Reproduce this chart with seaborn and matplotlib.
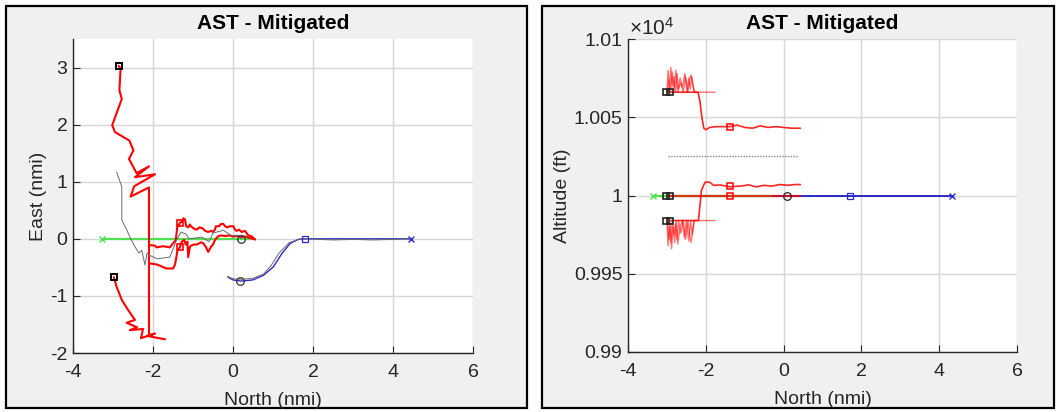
import matplotlib
matplotlib.use("Agg")
import matplotlib.pyplot as plt
from matplotlib.patches import Rectangle
import seaborn as sns
import numpy as np

# ---------------- data: left panel (North vs East, nmi) ----------------
red_up_N = [-2.86, -2.81, -2.84, -2.78, -3.02, -2.95, -2.59, -2.49, -2.60, -2.41,
            -2.10, -2.45, -1.95, -2.47, -2.56, -2.10, -2.10]
red_up_E = [3.03, 2.98, 2.60, 2.45, 1.99, 1.87, 1.72, 1.55, 1.40, 1.15,
            1.27, 1.08, 1.13, 0.92, 0.74, 0.90, -1.70]
red_lo_N = [-2.98, -2.91, -2.78, -2.62, -2.45, -2.66, -2.40, -2.58, -2.25, -2.30,
            -1.95, -2.15, -1.70]
red_lo_E = [-0.67, -0.84, -1.07, -1.25, -1.42, -1.47, -1.55, -1.60, -1.58, -1.74,
            -1.66, -1.70, -1.76]
env_hi_N = [-2.09, -1.95, -1.91, -1.75, -1.58, -1.50, -1.43, -1.41, -1.39, -1.36,
            -1.33, -1.28, -1.24, -1.20, -1.17, -1.12, -1.08, -1.05, -0.98, -0.91,
            -0.84, -0.75, -0.70, -0.62, -0.55, -0.50, -0.45, -0.43, -0.35, -0.30,
            -0.24, -0.20, -0.14, -0.08, 0.01, 0.05, 0.09, 0.15, 0.22, 0.30,
            0.38, 0.45, 0.55]
env_hi_E = [-0.11, -0.12, -0.15, -0.13, -0.15, -0.08, -0.02, 0.10, 0.24, 0.22,
            0.28, 0.30, 0.36, 0.34, 0.22, 0.20, 0.25, 0.22, 0.18, 0.16,
            0.20, 0.18, 0.14, 0.12, 0.14, 0.12, 0.16, 0.22, 0.22, 0.26,
            0.26, 0.22, 0.20, 0.22, 0.22, 0.16, 0.14, 0.16, 0.12, 0.14,
            0.06, 0.05, -0.01]
env_lo_N = [-2.09, -1.90, -1.66, -1.50, -1.45, -1.41, -1.39, -1.36, -1.33, -1.28,
            -1.22, -1.18, -1.14, -1.12, -1.08, -1.05, -0.98, -0.90, -0.80, -0.74,
            -0.68, -0.62, -0.58, -0.55, -0.50, -0.45, -0.38, -0.30, -0.20, -0.08,
            0.00, 0.10, 0.20, 0.30, 0.40, 0.55]
env_lo_E = [-0.43, -0.45, -0.52, -0.52, -0.45, -0.30, -0.20, -0.18, -0.15, -0.05,
            -0.02, -0.10, -0.05, -0.32, -0.15, -0.12, -0.10, -0.10, -0.06, -0.08,
            -0.14, -0.23, -0.18, -0.14, -0.10, -0.02, 0.04, 0.06, 0.05, 0.06,
            0.04, 0.05, 0.03, 0.04, 0.02, -0.01]
gray_N = [-2.91, -2.85, -2.78, -2.78, -2.65, -2.58, -2.45, -2.35, -2.28, -2.20,
          -2.15, -2.08, -1.90, -1.58, -1.41, -1.30, -1.17, -1.10, -0.78, -0.60,
          -0.50, -0.24, -0.05, 0.17, 0.20]
gray_E = [1.17, 1.05, 0.91, 0.33, 0.15, 0.03, -0.14, -0.25, -0.20, -0.46,
          -0.25, -0.29, -0.35, -0.32, -0.02, 0.12, 0.08, 0.00, 0.03, -0.05,
          0.10, 0.15, 0.06, 0.06, 0.00]
gray2_N = [-0.13, 0.0, 0.2, 0.5, 0.76, 0.95, 1.15, 1.4, 1.63, 1.81, 2.5, 3.0, 3.5, 4.45]
gray2_E = [-0.66, -0.70, -0.71, -0.69, -0.62, -0.47, -0.25, -0.07, -0.01, 0.0, -0.02, -0.01, -0.02, 0.0]
green_N = [-3.28, 0.45]
green_E = [0.0, 0.0]
blue_N = [-0.13, 0.0, 0.2, 0.5, 0.76, 1.01, 1.22, 1.43, 1.63, 1.81, 2.5, 3.5, 4.45]
blue_E = [-0.67, -0.72, -0.74, -0.72, -0.64, -0.49, -0.26, -0.08, -0.01, 0.0, 0.0, 0.0, 0.0]

# ---------------- data: right panel (North vs Altitude, ft) ----------------
spk_hi_N = [-3.00, -2.97, -2.93, -2.90, -2.86, -2.82, -2.78, -2.74, -2.70, -2.64,
            -2.58, -2.52, -2.46, -2.42, -2.38, -2.33, -2.30, -2.20, -1.76]
spk_hi_A = [10066, 10080, 10068, 10082, 10070, 10076, 10066, 10078, 10068, 10072,
            10066, 10076, 10066, 10074, 10077, 10070, 10066, 10066, 10066]
spk_hi2_N = [-2.98, -2.95, -2.91, -2.86, -2.82, -2.77, -2.72, -2.66, -2.60, -2.54,
             -2.48, -2.44, -2.40, -2.36, -2.31, -2.28]
spk_hi2_A = [10066, 10074, 10066, 10079, 10067, 10080, 10066, 10075, 10069, 10078,
             10066, 10075, 10068, 10076, 10068, 10066]
man_hi_N = [-2.90, -2.20, -2.15, -2.10, -2.05, -2.00, -1.90, -1.75, -1.38, -1.20,
            -1.00, -0.80, -0.60, -0.40, -0.20, 0.00, 0.20, 0.43]
man_hi_A = [10066, 10066, 10060, 10050, 10043, 10042, 10043.5, 10044, 10044, 10045,
            10043.5, 10043, 10044.5, 10043.5, 10044, 10043.5, 10043, 10043]
spk_lo_N = [-3.00, -2.97, -2.93, -2.90, -2.86, -2.82, -2.78, -2.74, -2.70, -2.64,
            -2.58, -2.52, -2.46, -2.42, -2.38, -2.33, -2.30, -1.76]
spk_lo_A = [9984, 9968, 9980, 9970, 9984, 9975, 9982, 9972, 9984, 9976,
            9984, 9972, 9984, 9976, 9970, 9978, 9984, 9984]
spk_lo2_N = [-2.98, -2.95, -2.92, -2.88, -2.84, -2.80, -2.76, -2.72, -2.66, -2.60,
             -2.55, -2.50, -2.44, -2.39, -2.35, -2.30]
spk_lo2_A = [9984, 9972, 9983, 9966, 9980, 9970, 9984, 9969, 9980, 9984,
             9973, 9984, 9971, 9984, 9975, 9984]
man_lo_N = [-2.90, -2.19, -2.11, -2.02, -1.90, -1.80, -1.63, -1.38, -1.10, -0.90,
            -0.70, -0.50, -0.30, -0.10, 0.10, 0.30, 0.43]
man_lo_A = [9984, 9984, 10003.5, 10008.5, 10008.5, 10006.5, 10006.7, 10005.6, 10006, 10006.8,
            10005.5, 10006.5, 10006, 10007, 10006.5, 10007, 10007]
lvl_N = [-3.00, 0.43]
lvl_A = [10000, 10000]
gray_alt_N = [-2.97, 0.37]
gray_alt_A = [10025, 10025]
green_alt_N = [-3.36, -0.27]
green_alt_A = [10000, 10000]
blue_alt_N = [-0.27, 4.33]
blue_alt_A = [10000, 10000]

# ---------------- style ----------------
sns.set_theme(style="white")
plt.rcParams["font.family"] = ["Liberation Sans", "DejaVu Sans"]
plt.rcParams["mathtext.fontset"] = "custom"
plt.rcParams["mathtext.rm"] = "Liberation Sans"
plt.rcParams["mathtext.it"] = "Liberation Sans"
plt.rcParams["axes.unicode_minus"] = False

RED = "#FF0000"
GREEN = "#4FE04F"
BLUE = "#2B2BC8"
GRAY = "#6A6A6A"
TXT = "#262626"
FS = 14
W, H = 1059, 412

fig = plt.figure(figsize=(W / 100, H / 100), dpi=100)
fig.patch.set_facecolor("white")

# panel frames
for (x0, x1) in [(6, 527), (542, 1054)]:
    fig.patches.append(Rectangle((x0 / W, 1 - 408 / H), (x1 - x0) / W, 402 / H,
                                 transform=fig.transFigure, facecolor="#F0F0F0",
                                 edgecolor="black", linewidth=1.6, zorder=-5))

axL = fig.add_axes([73 / W, 1 - 353 / H, 400 / W, 314 / H])
axR = fig.add_axes([628 / W, 1 - 352 / H, 389 / W, 313 / H])


def line(ax, x, y, color, lw, alpha=1.0, z=2, ls="-"):
    sns.lineplot(x=x, y=y, sort=False, estimator=None, color=color, linewidth=lw,
                 alpha=alpha, ax=ax, zorder=z, linestyle=ls)


def mark(ax, x, y, m, color, ms, mew=1.0, z=5):
    ax.plot(x, y, linestyle="none", marker=m, markersize=ms, markeredgecolor=color,
            markerfacecolor="none", markeredgewidth=mew, zorder=z)


# ---- left panel ----
line(axL, green_N, green_E, GREEN, 1.6, z=2)
line(axL, blue_N, blue_E, BLUE, 1.0, z=2)
line(axL, gray2_N, gray2_E, GRAY, 0.7, z=3)
line(axL, red_up_N, red_up_E, RED, 1.5, z=3)
line(axL, red_lo_N, red_lo_E, RED, 1.5, z=3)
line(axL, env_hi_N, env_hi_E, RED, 1.5, z=3)
line(axL, env_lo_N, env_lo_E, RED, 1.5, z=3)
line(axL, gray_N, gray_E, GRAY, 0.7, z=4)

mark(axL, [-3.28], [0.0], "x", GREEN, 5)
mark(axL, [-2.86, -2.98], [3.03, -0.67], "s", "black", 4.5, 1.4)
mark(axL, [-1.33, -1.33], [0.28, -0.15], "s", RED, 4.5, 1.2)
mark(axL, [0.2, 0.17], [0.0, -0.74], "o", "#333333", 5.5, 0.9)
mark(axL, [1.81], [0.0], "s", BLUE, 4.5, 0.9)
mark(axL, [4.45], [0.0], "x", BLUE, 5, 1.0)

axL.set_xlim(-4, 6)
axL.set_ylim(-2, 3.5)
axL.set_xticks([-4, -2, 0, 2, 4, 6])
axL.set_yticks([-2, -1, 0, 1, 2, 3])
axL.set_ylabel("East (nmi)", fontsize=FS, color=TXT, labelpad=2)

# ---- right panel ----
line(axR, green_alt_N, green_alt_A, GREEN, 1.6, z=2)
line(axR, blue_alt_N, blue_alt_A, BLUE, 1.4, z=2)
line(axR, lvl_N, lvl_A, RED, 1.6, alpha=0.75, z=3)
line(axR, spk_hi_N, spk_hi_A, RED, 1.0, alpha=0.55, z=3)
line(axR, spk_hi2_N, spk_hi2_A, RED, 1.0, alpha=0.55, z=3)
line(axR, spk_lo_N, spk_lo_A, RED, 1.0, alpha=0.55, z=3)
line(axR, spk_lo2_N, spk_lo2_A, RED, 1.0, alpha=0.55, z=3)
line(axR, man_hi_N, man_hi_A, RED, 1.2, alpha=0.85, z=3)
line(axR, man_lo_N, man_lo_A, RED, 1.2, alpha=0.85, z=3)
line(axR, gray_alt_N, gray_alt_A, GRAY, 1.0, alpha=0.8, z=3, ls=(0, (1, 1)))

mark(axR, [-3.36], [10000], "x", GREEN, 5)
mark(axR, [-3.03, -2.92, -3.03, -2.92, -3.03, -2.92],
     [10066, 10066, 10000, 10000, 9984, 9984], "s", "#222222", 4.5, 1.2)
mark(axR, [-1.38, -1.38, -1.38], [10044, 10006, 10000], "s", RED, 4.5, 1.1)
mark(axR, [0.08], [10000], "o", "#222222", 5.5, 0.9)
mark(axR, [1.71], [10000], "s", BLUE, 4.5, 0.9)
mark(axR, [4.33], [10000], "x", BLUE, 5, 1.0)

axR.set_xlim(-4, 6)
axR.set_ylim(9900, 10100)
axR.set_xticks([-4, -2, 0, 2, 4, 6])
axR.set_yticks([9900, 9950, 10000, 10050, 10100])
axR.set_yticklabels(["0.99", "0.995", "1", "1.005", "1.01"])
axR.set_ylabel("Altitude (ft)", fontsize=FS, color=TXT, labelpad=2)
axR.annotate(r"$\times10^{4}$", xy=(0.0, 1.0), xycoords="axes fraction",
             xytext=(1, 0.5), textcoords="offset points", ha="left", va="bottom",
             fontsize=FS + 1, color=TXT)

for ax in (axL, axR):
    ax.set_xlabel("North (nmi)", fontsize=FS, color=TXT, labelpad=8)
    ax.set_title("AST - Mitigated", fontsize=15, fontweight="bold", color="black", pad=7)
    ax.set_facecolor("white")
    ax.grid(True, color="#D6D6D6", linewidth=1.0, zorder=0)
    ax.set_axisbelow(True)
    for s in ("top", "right"):
        ax.spines[s].set_visible(False)
    for s in ("left", "bottom"):
        ax.spines[s].set_color(TXT)
        ax.spines[s].set_linewidth(1.0)
    ax.tick_params(direction="in", length=5, width=0.8, colors=TXT, labelsize=FS,
                   left=True, bottom=True)
    ax.tick_params(axis="x", pad=8)
    ax.tick_params(axis="y", pad=4)

fig.savefig("out.png", dpi=100, facecolor="white")
